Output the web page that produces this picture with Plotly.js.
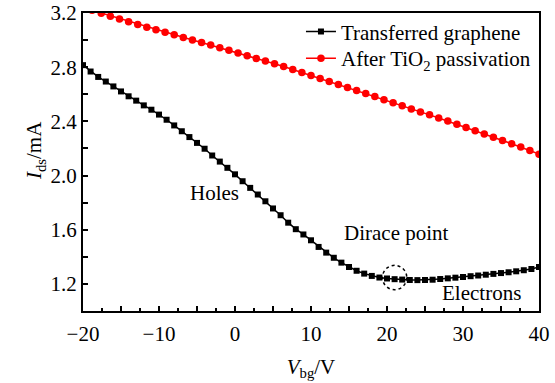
<!DOCTYPE html>
<html>
<head>
<meta charset="utf-8">
<script src="https://cdn.plot.ly/plotly-3.0.1.min.js"></script>
<style>html,body{margin:0;padding:0;background:#fff;}#chart{width:555px;height:383px;}</style>
</head>
<body>
<div id="chart"></div>
<script>
// Transferred graphene (black squares), Vbg step 1 V
const blackX = [-20,-19,-18,-17,-16,-15,-14,-13,-12,-11,-10,-9,-8,-7,-6,-5,-4,-3,-2,-1,0,1,2,3,4,5,6,7,8,9,10,11,12,13,14,15,16,17,18,19,20,21,22,23,24,25,26,27,28,29,30,31,32,33,34,35,36,37,38,39,40];
const blackY = [2.815,2.768,2.728,2.694,2.658,2.621,2.585,2.553,2.518,2.486,2.450,2.412,2.370,2.327,2.284,2.241,2.198,2.148,2.103,2.057,2.009,1.958,1.909,1.860,1.810,1.757,1.707,1.652,1.604,1.565,1.522,1.473,1.431,1.393,1.357,1.325,1.297,1.276,1.259,1.247,1.240,1.235,1.232,1.229,1.228,1.229,1.231,1.236,1.241,1.246,1.251,1.257,1.262,1.268,1.274,1.280,1.286,1.293,1.301,1.310,1.325];
// After TiO2 passivation (red circles), Vbg step 1.2 V
const redX = [-20,-18.8,-17.6,-16.4,-15.2,-14,-12.8,-11.6,-10.4,-9.2,-8,-6.8,-5.6,-4.4,-3.2,-2,-0.8,0.4,1.6,2.8,4,5.2,6.4,7.6,8.8,10,11.2,12.4,13.6,14.8,16,17.2,18.4,19.6,20.8,22,23.2,24.4,25.6,26.8,28,29.2,30.4,31.6,32.8,34,35.2,36.4,37.6,38.8,40];
const redY = [3.240,3.220,3.198,3.176,3.155,3.135,3.115,3.095,3.076,3.058,3.040,3.020,3.000,2.982,2.963,2.944,2.925,2.905,2.885,2.865,2.845,2.825,2.805,2.783,2.760,2.738,2.716,2.694,2.672,2.650,2.628,2.605,2.583,2.560,2.538,2.515,2.492,2.470,2.448,2.425,2.402,2.378,2.355,2.331,2.307,2.283,2.259,2.235,2.210,2.184,2.158];

const xTickVals = [-20,-15,-10,-5,0,5,10,15,20,25,30,35,40];
const xTickText = ['\u221220','','\u221210','','0','','10','','20','','30','','40'];
const yTickVals = [1.0,1.2,1.4,1.6,1.8,2.0,2.2,2.4,2.6,2.8,3.0,3.2];
const yTickText = ['','1.2','','1.6','','2.0','','2.4','','2.8','','3.2'];

const FONT = 'Liberation Serif, Times New Roman, serif';
const FS = 21;

const traces = [
  {x: blackX, y: blackY, mode: 'lines+markers', name: 'Transferred graphene', legend: 'legend',
   line: {color: '#000000', width: 1.5}, marker: {symbol: 'square', size: 6, color: '#000000'}},
  {x: redX, y: redY, mode: 'lines+markers', name: 'After TiO<sub>2</sub> passivation', legend: 'legend2',
   line: {color: '#ff0000', width: 1.5}, marker: {symbol: 'circle', size: 7.5, color: '#ff0000'}}
];

const layout = {
  width: 555, height: 383,
  margin: {l: 83, r: 16, t: 11, b: 72},
  paper_bgcolor: '#fff', plot_bgcolor: '#fff',
  font: {family: FONT, size: FS, color: '#000'},
  showlegend: true,
  legend: {x: 0.478, xanchor: 'left', y: 0.937, yanchor: 'middle', bgcolor: 'rgba(0,0,0,0)', font: {family: FONT, size: FS}},
  legend2: {x: 0.478, xanchor: 'left', y: 0.847, yanchor: 'middle', bgcolor: 'rgba(0,0,0,0)', font: {family: FONT, size: FS}},
  xaxis: {
    range: [-20, 40], showgrid: false, zeroline: false,
    showline: true, linecolor: '#000', linewidth: 2, mirror: true,
    ticks: 'inside', ticklen: 5, tickwidth: 2, tickcolor: '#000',
    tickmode: 'array', tickvals: xTickVals, ticktext: xTickText,
    minor: {tickmode: 'linear', tick0: -20, dtick: 2.5, ticks: 'inside', ticklen: 3, tickwidth: 1.5, tickcolor: '#000'},
    tickfont: {family: FONT, size: FS}, ticklabelstandoff: 3,
    title: {text: '<i>V</i><sub>bg</sub>/V', font: {family: FONT, size: FS}, standoff: 14}
  },
  yaxis: {
    range: [1.0, 3.2], showgrid: false, zeroline: false,
    showline: true, linecolor: '#000', linewidth: 2, mirror: true,
    ticks: 'inside', ticklen: 5, tickwidth: 2, tickcolor: '#000',
    tickmode: 'array', tickvals: yTickVals, ticktext: yTickText,
    tickfont: {family: FONT, size: FS}
  },
  annotations: [
    {xref: 'paper', yref: 'paper', x: -0.138, y: 0.537, text: '<i>I</i><sub>ds</sub>/mA', textangle: -90, showarrow: false, font: {family: FONT, size: FS}},
    {x: -2.7, y: 1.868, xref: 'x', yref: 'y', text: 'Holes', showarrow: false, font: {family: FONT, size: FS}},
    {x: 21.3, y: 1.573, xref: 'x', yref: 'y', text: 'Dirace point', showarrow: false, font: {family: FONT, size: FS}},
    {x: 32.4, y: 1.131, xref: 'x', yref: 'y', text: 'Electrons', showarrow: false, font: {family: FONT, size: FS}}
  ],
  shapes: [
    {type: 'circle', xref: 'x', yref: 'y', x0: 19.4, x1: 22.6, y0: 1.157, y1: 1.337,
     line: {color: '#000', width: 1.5, dash: 'dot'}, fillcolor: 'rgba(0,0,0,0)'}
  ]
};

Plotly.newPlot('chart', traces, layout, {displayModeBar: false, staticPlot: true});
</script>
</body>
</html>
